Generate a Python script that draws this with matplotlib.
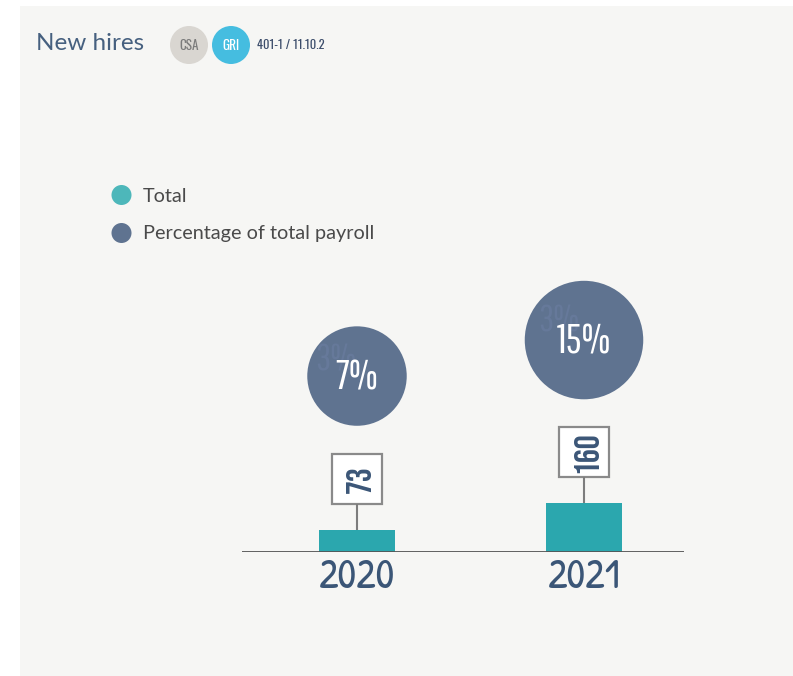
import matplotlib
matplotlib.use("Agg")
import matplotlib.pyplot as plt
from matplotlib.patches import Rectangle, Circle

# ---- data ----
years = ["2020", "2021"]
total_hires = [73, 160]
payroll_pct = [7, 15]
legend_labels = ["Total", "Percentage of total payroll"]
title = "New hires"
ref_code = "401-1 / 11.10.2"

# ---- style ----
BG = "#f6f6f4"
TEAL = "#2ba7ae"
TEAL_LEG = "#4db7ba"
SLATE = "#5f7390"
NAVY = "#3b5677"
GREY_LINE = "#7d7d7d"
SANS = ["Lato", "DejaVu Sans"]
THIN_COND = ["Pathway Gothic One", "DejaVu Sans"]
BOLD_COND = ["Bebas Neue", "DejaVu Sans"]
BADGE = ["Oswald", "DejaVu Sans"]
HAND = ["Patrick Hand", "DejaVu Sans"]

W, H = 793, 676
fig = plt.figure(figsize=(W / 100, H / 100), dpi=100, facecolor="white")

# light panel behind the chart
fig.patches.append(Rectangle((20 / W, 0), 1 - 20 / W, (H - 6) / H,
                             transform=fig.transFigure, facecolor=BG,
                             edgecolor="none", zorder=-5))

# ---- bar axes ----
base_y = 552          # baseline, pixels from top
x_left, x_right = 242, 684
step = 227            # pixel distance between the two categories
first_x = 357
px_per_unit = 48.7 / 160
ax_top = 200
ax = fig.add_axes([x_left / W, (H - base_y) / H, (x_right - x_left) / W,
                   (base_y - ax_top) / H], zorder=1)
ax.set_facecolor("none")
ax.set_xlim(-(first_x - x_left) / step, 1 + (x_right - first_x - step) / step)
ax.set_ylim(0, (base_y - ax_top) / px_per_unit)
xs = list(range(len(years)))
ax.bar(xs, total_hires, width=76 / step, color=TEAL, zorder=2)
ax.axhline(0, color="#555555", lw=1.3, zorder=3)
for s in ax.spines.values():
    s.set_visible(False)
ax.set_xticks([])
ax.set_yticks([])

# ---- overlay in pixel coordinates (y down) ----
ov = fig.add_axes([0, 0, 1, 1], zorder=5)
ov.set_xlim(0, W)
ov.set_ylim(H, 0)
ov.axis("off")
ov.patch.set_visible(False)

def to_px(x, y):
    disp = ax.transData.transform((x, y))
    return ov.transData.inverted().transform(disp)

def bubble_radius(p):
    # linear radius scale for the payroll bubbles
    return 41.4 + 1.19 * p

box = 50
stem = 26
gap = 28
for i, (n, p, yr) in enumerate(zip(total_hires, payroll_pct, years)):
    cx, top = to_px(i, n)
    # stem and value box
    ov.plot([cx, cx], [top, top - stem], color=GREY_LINE, lw=1.5,
            solid_capstyle="butt")
    by = top - stem - box
    ov.add_patch(Rectangle((cx - box / 2, by), box, box, facecolor="white",
                           edgecolor="#8a8a8a", lw=1.6))
    ov.text(cx + 1, by + box / 2, str(n), rotation=90, ha="center",
            va="center", fontsize=25, family=BOLD_COND, color=NAVY)
    # payroll bubble with a faint watermark figure inside it
    r = bubble_radius(p)
    cy = by - gap - r
    bubble = Circle((cx, cy), r, facecolor=SLATE, edgecolor="none")
    ov.add_patch(bubble)
    ghost = ov.text(cx - r * 0.43, cy - r * 0.32, "3%", ha="center",
                    va="center", fontsize=27, family=THIN_COND,
                    color="#66799a")
    ghost.set_clip_path(bubble)
    ov.text(cx, cy + 1, f"{p}%", ha="center", va="center", fontsize=30,
            family=THIN_COND, color="white")
    # year label
    ov.text(cx, base_y + 27, yr, ha="center", va="center", fontsize=30,
            family=HAND, style="italic", color=NAVY)

# ---- header ----
ov.text(36, 44, title, ha="left", va="center", fontsize=17.5, family=SANS,
        color="#46607f")
ov.add_patch(Circle((189, 45), 19, facecolor="#d9d6d1", edgecolor="none"))
ov.text(189, 45.5, "CSA", ha="center", va="center", fontsize=9.5,
        family=BADGE, color="#7b7b7b")
ov.add_patch(Circle((231, 45), 19, facecolor="#45bde0", edgecolor="none"))
ov.text(231, 45.5, "GRI", ha="center", va="center", fontsize=9.5,
        family=BADGE, color="white")
ov.text(257, 45, ref_code, ha="left", va="center", fontsize=9,
        family=BADGE, color="#3c4d6b")

# ---- legend ----
for k, (lab, col) in enumerate(zip(legend_labels, [TEAL_LEG, SLATE])):
    y = 196 + 38 * k
    ov.add_patch(Circle((121.5, y - 1), 10, facecolor=col, edgecolor="none"))
    ov.text(143, y, lab, ha="left", va="center", fontsize=14.3, family=SANS,
            color="#4a4a4a")

fig.savefig("out.png", dpi=100, facecolor=fig.get_facecolor())
